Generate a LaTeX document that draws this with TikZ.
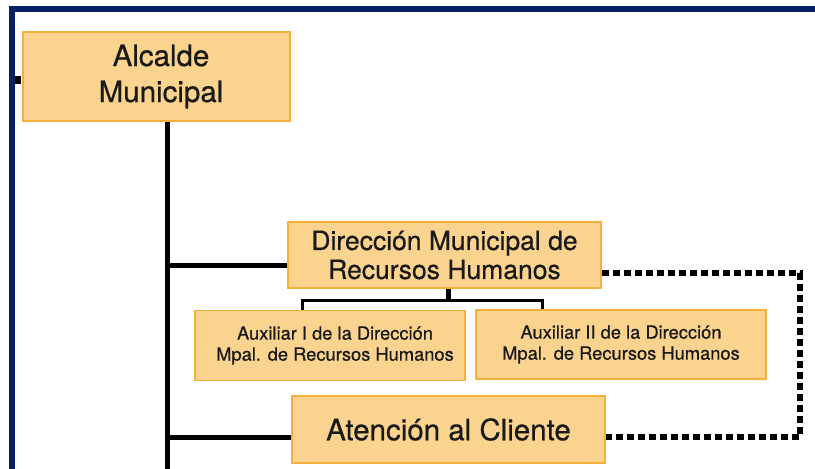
\documentclass[tikz,border=0pt]{standalone}
\usepackage{fontspec}
\setmainfont[FakeBold=0.5,AutoFakeBold=0.5]{TeX Gyre Heros}
\definecolor{boxfill}{RGB}{250,211,142}
\definecolor{boxline}{RGB}{244,175,60}
\definecolor{navy}{RGB}{3,33,96}
\begin{document}
\begin{tikzpicture}[x=1pt,y=-1pt,
  box/.style={draw=boxline, fill=boxfill, line width=1.5pt, align=center, inner sep=0pt, text=black!90},
  bigtext/.style={font=\fontsize{29.5}{36}\selectfont\bfseries},
  midtext/.style={font=\fontsize{26.5}{29}\selectfont\bfseries},
  smalltext/.style={font=\fontsize{18.3}{21}\selectfont\bfseries},
  mainline/.style={line width=5pt},
  subline/.style={line width=3pt},
  dashline/.style={line width=5.5pt, dash pattern=on 7pt off 4pt}]
\useasboundingbox (0,0) rectangle (815,469);
\fill[white] (0,0) rectangle (815,469);
% frame
\draw[navy, line width=6pt, line join=miter] (12,469) -- (12,9) -- (815,9);
\fill[black] (15,76) rectangle (21,84);
% nodes
\node[box, bigtext, minimum width=267pt, minimum height=89pt] (alc) at (156.5,76.5) {\hspace*{9pt}Alcalde\\\hspace*{9pt}Municipal};
\node[box, midtext, minimum width=313pt, minimum height=66pt] (dir) at (444.5,255) {Dirección Municipal de\\Recursos Humanos};
\node[box, smalltext, minimum width=270pt, minimum height=70pt] (aux1) at (330,345.5) {\hspace*{10pt}Auxiliar I de la Dirección\\\hspace*{10pt}Mpal. de Recursos Humanos};
\node[box, smalltext, minimum width=290pt, minimum height=69pt] (aux2) at (621,344.5) {Auxiliar II de la Dirección\\Mpal. de Recursos Humanos};
\node[box, bigtext, minimum width=313pt, minimum height=67pt] (ate) at (448.5,429.5) {Atención al Cliente};
% coordinates
\coordinate (bot) at (167,469);
\coordinate (j) at (448,300);
\coordinate (dc) at (800,0);
% connectors
\draw[mainline] (alc.south -| bot) -- (bot);
\draw[mainline] ([yshift=-10pt]dir.west) -- ([yshift=-10pt]dir.west -| bot);
\draw[mainline] ([yshift=-7.5pt]ate.west) -- ([yshift=-7.5pt]ate.west -| bot);
\draw[mainline] (dir.south -| j) -- ([yshift=1pt]j);
\draw[subline, line join=miter] ([xshift=-28pt]aux1.north) |- (j) -| ([xshift=-79pt]aux2.north);
\draw[dashline, line join=miter] ([yshift=-18pt]dir.east) -| ([yshift=-7.5pt]ate.east -| dc) -- ([yshift=-7.5pt]ate.east);
\end{tikzpicture}
\end{document}
